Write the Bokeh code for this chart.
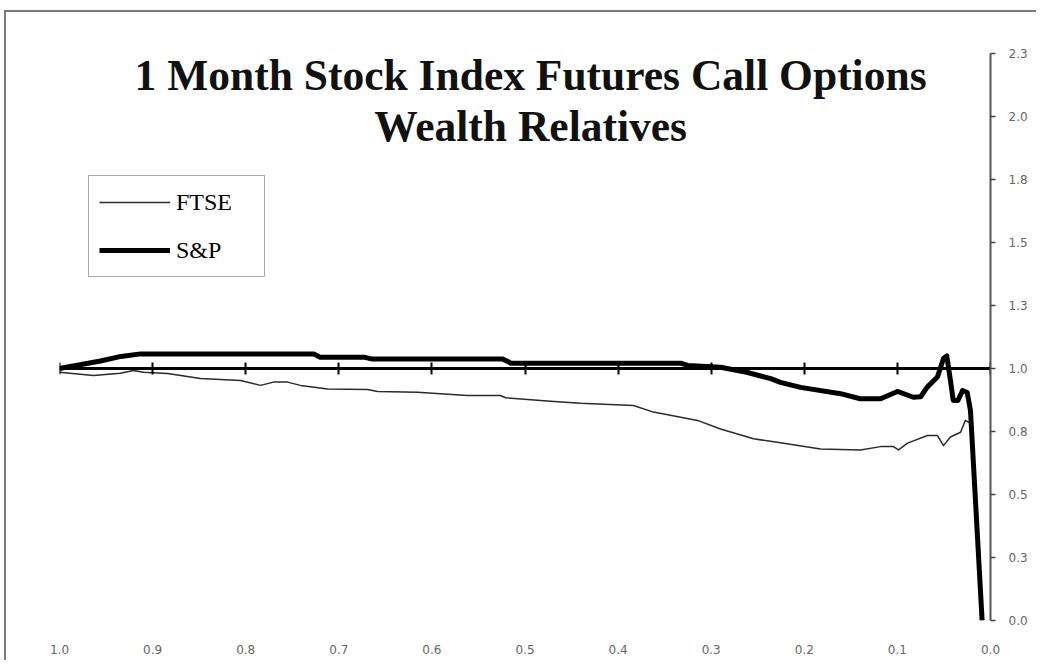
from bokeh.plotting import figure
from bokeh.models import Range1d, LinearAxis, FixedTicker, Label, Legend, LegendItem
from bokeh.embed import file_html
from bokeh.resources import INLINE

# ---- data ----
title_line1 = "1 Month Stock Index Futures Call Options"
title_line2 = "Wealth Relatives"

sp_x = [1.0, 0.956, 0.934, 0.913, 0.727, 0.720, 0.673, 0.665, 0.524, 0.515, 0.333, 0.325,
        0.290, 0.262, 0.236, 0.2256, 0.204, 0.161, 0.140, 0.118, 0.100, 0.083, 0.075, 0.068,
        0.057, 0.0505, 0.047, 0.043, 0.040, 0.035, 0.030, 0.025, 0.0215, 0.009]
sp_y = [1.0, 1.03, 1.048, 1.058, 1.058, 1.045, 1.045, 1.038, 1.038, 1.021, 1.021, 1.012,
        1.005, 0.985, 0.96, 0.945, 0.925, 0.90, 0.88, 0.88, 0.909, 0.886, 0.888, 0.926,
        0.966, 1.04, 1.05, 0.952, 0.873, 0.873, 0.913, 0.905, 0.833, 0.0]

ftse_x = [1.0, 0.9635, 0.9345, 0.9205, 0.9098, 0.884, 0.8485, 0.8056, 0.7841, 0.7701, 0.7551,
          0.7411, 0.7121, 0.6692, 0.6584, 0.6155, 0.5618, 0.5263, 0.5209, 0.4726, 0.4404,
          0.3835, 0.3620, 0.3147, 0.2900, 0.2546, 0.2256, 0.1826, 0.1396, 0.1181, 0.1042,
          0.0988, 0.0891, 0.0677, 0.0569, 0.0505, 0.0430, 0.0322, 0.0269, 0.0205, 0.009]
ftse_y = [0.985, 0.972, 0.981, 0.992, 0.985, 0.98, 0.96, 0.952, 0.933, 0.946, 0.946,
          0.933, 0.919, 0.917, 0.909, 0.906, 0.893, 0.893, 0.884, 0.870, 0.862,
          0.853, 0.827, 0.794, 0.760, 0.721, 0.705, 0.681, 0.677, 0.690, 0.690,
          0.677, 0.704, 0.734, 0.734, 0.694, 0.728, 0.747, 0.794, 0.78, 0.0]

x_ticks = [1.0, 0.9, 0.8, 0.7, 0.6, 0.5, 0.4, 0.3, 0.2, 0.1, 0.0]
x_tick_labels = ["1.0", "0.9", "0.8", "0.7", "0.6", "0.5", "0.4", "0.3", "0.2", "0.1", "0.0"]
y_ticks = [0.0, 0.25, 0.5, 0.75, 1.0, 1.25, 1.5, 1.75, 2.0, 2.25]
y_tick_labels = ["0.0", "0.3", "0.5", "0.8", "1.0", "1.3", "1.5", "1.8", "2.0", "2.3"]

p = figure(width=1032, height=650, output_backend="svg", toolbar_location=None,
           x_range=Range1d(1.0, 0.0), y_range=Range1d(0.0, 2.25),
           y_axis_location="right",
           min_border_left=53, min_border_top=41, min_border_bottom=42, min_border_right=48)
p.background_fill_color = "white"
p.border_fill_color = "white"
p.outline_line_color = None
p.xgrid.visible = False
p.ygrid.visible = False
p.styles = {"border-left": "2px solid #7a7a7a", "border-top": "2px solid #7a7a7a",
            "margin-left": "4px", "margin-top": "10px"}

label_font = "DejaVu Sans"

# bottom axis: labels only
xa = p.xaxis[0]
xa.ticker = FixedTicker(ticks=x_ticks)
xa.major_label_overrides = {t: s for t, s in zip(x_ticks, x_tick_labels)}
xa.axis_line_color = None
xa.major_tick_line_color = None
xa.minor_tick_line_color = None
xa.major_label_standoff = 18
xa.major_label_text_font = label_font
xa.major_label_text_font_size = "12px"
xa.major_label_text_color = "#666666"

# right axis
ya = p.yaxis[0]
ya.ticker = FixedTicker(ticks=y_ticks)
ya.major_label_overrides = {t: s for t, s in zip(y_ticks, y_tick_labels)}
ya.axis_line_color = "#555555"
ya.axis_line_width = 2
ya.major_tick_line_color = "#444444"
ya.major_tick_line_width = 1.5
ya.major_tick_out = 5
ya.major_tick_in = 0
ya.minor_tick_line_color = None
ya.major_label_standoff = 13
ya.major_label_text_font = label_font
ya.major_label_text_font_size = "12px"
ya.major_label_text_color = "#666666"

# horizontal axis crossing at y = 1.0
cross = LinearAxis(fixed_location=1.0, ticker=FixedTicker(ticks=x_ticks))
cross.major_label_overrides = {t: "" for t in x_ticks}
cross.major_label_text_font_size = "0px"
cross.axis_line_color = "black"
cross.axis_line_width = 3
cross.major_tick_line_color = "black"
cross.major_tick_line_width = 2
cross.major_tick_in = 6
cross.major_tick_out = 6
cross.minor_tick_line_color = None
p.add_layout(cross, "above")

r_ftse = p.line(ftse_x, ftse_y, line_color="#2a2a2a", line_width=1.5, line_join="round")
r_sp = p.line(sp_x, sp_y, line_color="black", line_width=5, line_join="round")

legend = Legend(items=[LegendItem(label="FTSE", renderers=[r_ftse]),
                       LegendItem(label="S&P", renderers=[r_sp])],
                location=(29, 343))
legend.glyph_width = 71
legend.glyph_height = 32
legend.label_height = 32
legend.label_width = 78
legend.spacing = 16
legend.padding = 10
legend.margin = 0
legend.label_standoff = 6
legend.label_text_font = "Liberation Serif"
legend.label_text_font_size = "24px"
legend.label_text_color = "black"
legend.border_line_color = "#555555"
legend.border_line_width = 1.5
legend.background_fill_color = "white"
p.add_layout(legend, "center")

for txt, yy in [(title_line1, 2.163), (title_line2, 1.964)]:
    p.add_layout(Label(x=0.494, y=yy, text=txt, text_align="center", text_baseline="alphabetic",
                       text_font="Liberation Serif", text_font_style="bold",
                       text_font_size="43.5px", text_color="#111111"))

open("out.html", "w").write(file_html(p, INLINE))
